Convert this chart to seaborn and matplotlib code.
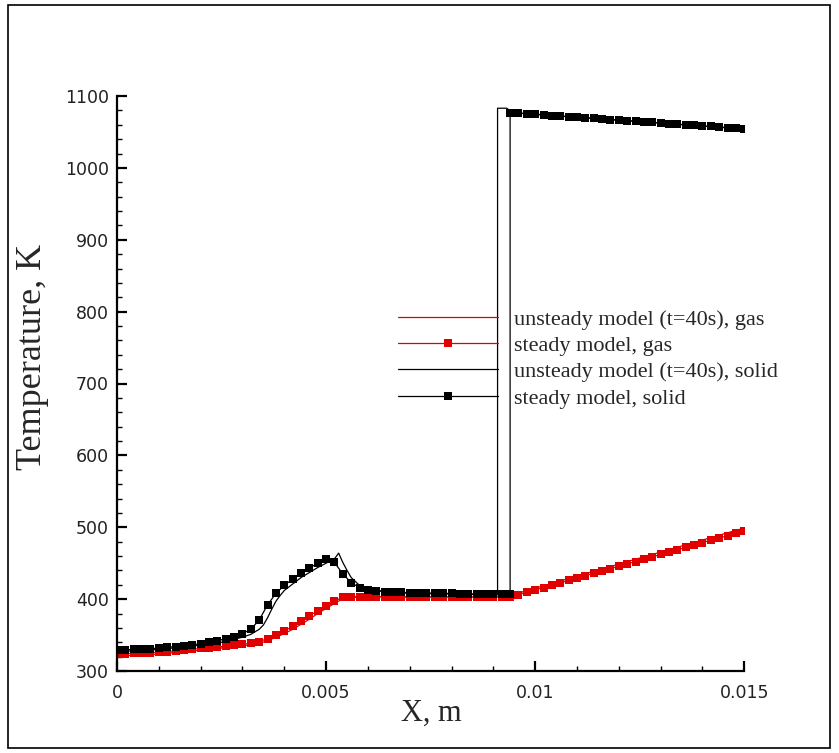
import matplotlib
matplotlib.use("Agg")
import matplotlib.pyplot as plt
import seaborn as sns
from matplotlib.patches import Rectangle
from matplotlib.ticker import MultipleLocator, FixedLocator

# ---------------- data ----------------
x_steady = [0.0, 0.0002, 0.0004, 0.0006, 0.0008, 0.0010, 0.0012, 0.0014, 0.0016, 0.0018,
            0.0020, 0.0022, 0.0024, 0.0026, 0.0028, 0.0030, 0.0032, 0.0034, 0.0036, 0.0038,
            0.0040, 0.0042, 0.0044, 0.0046, 0.0048, 0.0050, 0.0052, 0.0054, 0.0056, 0.0058,
            0.0060, 0.0062, 0.0064, 0.0066, 0.0068, 0.0070, 0.0072, 0.0074, 0.0076, 0.0078,
            0.0080, 0.0082, 0.0084, 0.0086, 0.0088, 0.0090, 0.0092, 0.0094, 0.0094, 0.0096,
            0.0098, 0.0100, 0.0102, 0.0104, 0.0106, 0.0108, 0.0110, 0.0112, 0.0114, 0.0116,
            0.0118, 0.0120, 0.0122, 0.0124, 0.0126, 0.0128, 0.0130, 0.0132, 0.0134, 0.0136,
            0.0138, 0.0140, 0.0142, 0.0144, 0.0146, 0.0148, 0.0150]

t_steady_solid = [329, 329.5, 330, 330.5, 331, 332, 333, 334, 335, 336.5,
                  338, 340, 342, 345, 348, 352, 358, 371, 392, 408,
                  419, 428, 436, 443, 450, 456, 451, 435, 423, 416,
                  413, 411.5, 410.5, 410, 409.5, 409, 409, 408.5, 408.5, 408,
                  408, 407.5, 407.5, 407, 407, 407, 406.5, 406.5, 1077, 1076,
                  1075.2, 1074.4, 1073.6, 1072.8, 1072, 1071.2, 1070.4, 1069.6, 1068.8, 1068,
                  1067.2, 1066.4, 1065.6, 1064.8, 1064, 1063.2, 1062.4, 1061.6, 1060.8, 1060,
                  1059.2, 1058.4, 1057.6, 1056.8, 1056, 1055.2, 1054.4]

t_steady_gas = [323.5, 324, 324.5, 325, 325.5, 326, 327, 328, 329, 330,
                331.5, 332.5, 333.5, 334.5, 335.5, 337, 338.5, 341, 345, 350,
                356, 362, 369.5, 376.5, 384, 390.5, 397.5, 402.5, 403.5, 403.5,
                403.5, 403.5, 403.5, 403.5, 403, 403, 403, 403, 403, 403,
                403, 403, 403, 403, 403, 403, 403, 403, 403, 406.3,
                409.6, 412.9, 416.1, 419.4, 422.7, 426, 429.3, 432.6, 435.9, 439.1,
                442.4, 445.7, 449, 452.3, 455.6, 458.9, 462.1, 465.4, 468.7, 472,
                475.3, 478.6, 481.9, 485.1, 488.4, 491.7, 495]

x_unsteady_gas = [0.0, 0.001, 0.002, 0.003, 0.0034, 0.0036, 0.0038, 0.004, 0.0042, 0.0044,
                  0.0046, 0.0048, 0.005, 0.0052, 0.0054, 0.0055, 0.006, 0.009, 0.0093, 0.015]
t_unsteady_gas = [320.5, 323.5, 329, 335, 338.5, 342, 347, 352, 358, 365,
                  372, 380, 387, 394, 400.5, 402.5, 403, 403, 403.5, 499]

x_unsteady_solid = [0.0, 0.001, 0.002, 0.0025, 0.003, 0.0032, 0.0034, 0.0035, 0.0036, 0.0037,
                    0.0038, 0.0039, 0.004, 0.0042, 0.0044, 0.0046, 0.0048, 0.005, 0.0052, 0.0053,
                    0.0054, 0.0055, 0.0056, 0.0058, 0.006, 0.0065, 0.007, 0.008, 0.009, 0.0091,
                    0.0091, 0.00932, 0.00945, 0.015]
t_unsteady_solid = [327, 330, 336, 340, 347, 351, 358, 364, 374, 386,
                    397, 405, 412, 421, 430, 437, 444, 450, 456, 464,
                    451, 440, 430, 419, 414, 410, 408, 407, 406, 406,
                    1083, 1083, 1077, 1054]

labels = ["unsteady model (t=40s), gas", "steady model, gas",
          "unsteady model (t=40s), solid", "steady model, solid"]
x_ticks = [0, 0.005, 0.01, 0.015]
x_tick_labels = ["0", "0.005", "0.01", "0.015"]
y_ticks = [300, 400, 500, 600, 700, 800, 900, 1000, 1100]

# ---------------- figure ----------------
sns.set_style("ticks")
plt.rcParams["font.family"] = ["DejaVu Sans"]

W, H = 839, 753
fig = plt.figure(figsize=(W / 100, H / 100), dpi=100)
ax = fig.add_axes([117 / W, 1 - 671 / H, (744.3 - 117) / W, (671 - 96) / H])

RED = "#e00000"
BLACK = "#000000"

common = dict(ax=ax, estimator=None, sort=False)
sns.lineplot(x=x_unsteady_gas, y=t_unsteady_gas, color=RED, linewidth=0.9,
             label=labels[0], **common)
sns.lineplot(x=x_steady, y=t_steady_gas, color=RED, linewidth=0.9, marker="s",
             markersize=5.2, markeredgewidth=0, label=labels[1], **common)
sns.lineplot(x=x_unsteady_solid, y=t_unsteady_solid, color=BLACK, linewidth=0.9,
             label=labels[2], **common)
sns.lineplot(x=x_steady, y=t_steady_solid, color=BLACK, linewidth=0.9, marker="s",
             markersize=5.2, markeredgewidth=0, label=labels[3], **common)

ax.set_xlim(0, 0.015)
ax.set_ylim(300, 1100)
ax.xaxis.set_major_locator(FixedLocator(x_ticks))
ax.set_xticklabels(x_tick_labels)
ax.xaxis.set_minor_locator(MultipleLocator(0.001))
ax.yaxis.set_major_locator(FixedLocator(y_ticks))
ax.yaxis.set_minor_locator(MultipleLocator(20))

for s in ["top", "right"]:
    ax.spines[s].set_visible(False)
for s in ["left", "bottom"]:
    ax.spines[s].set_linewidth(1.6)
    ax.spines[s].set_color("black")

ax.tick_params(which="major", direction="in", length=7.5, width=1.6,
               labelsize=12.5, colors="black")
ax.tick_params(which="minor", direction="in", length=3.8, width=1.0, colors="black")
ax.tick_params(axis="x", which="major", pad=9)
ax.tick_params(axis="y", which="major", pad=6)
for lab in ax.get_xticklabels() + ax.get_yticklabels():
    lab.set_color("#222222")

ax.set_xlabel("")
ax.set_ylabel("")
ax.set_facecolor("white")

fig.text(431 / W, 1 - 713 / H, "X, m", family="Liberation Serif", fontsize=22,
         ha="center", va="center")
fig.text(33 / W, 1 - 357 / H, "Temperature, K", family="Liberation Serif", fontsize=26,
         ha="center", va="center", rotation=90)

handles, labs = ax.get_legend_handles_labels()
leg = ax.legend(handles, labs, loc="upper left",
                bbox_to_anchor=(398 / W, 1 - 309 / H), bbox_transform=fig.transFigure,
                frameon=False, prop={"family": "Liberation Serif", "size": 16},
                handlelength=4.5, handletextpad=0.7, labelspacing=0.26,
                borderpad=0, borderaxespad=0, numpoints=1)

fig.add_artist(Rectangle((8 / W, 1 - 748 / H), 822 / W, 743 / H,
                         transform=fig.transFigure, fill=False,
                         edgecolor="black", linewidth=1.2))

fig.savefig("out.png", dpi=100, facecolor="white")
